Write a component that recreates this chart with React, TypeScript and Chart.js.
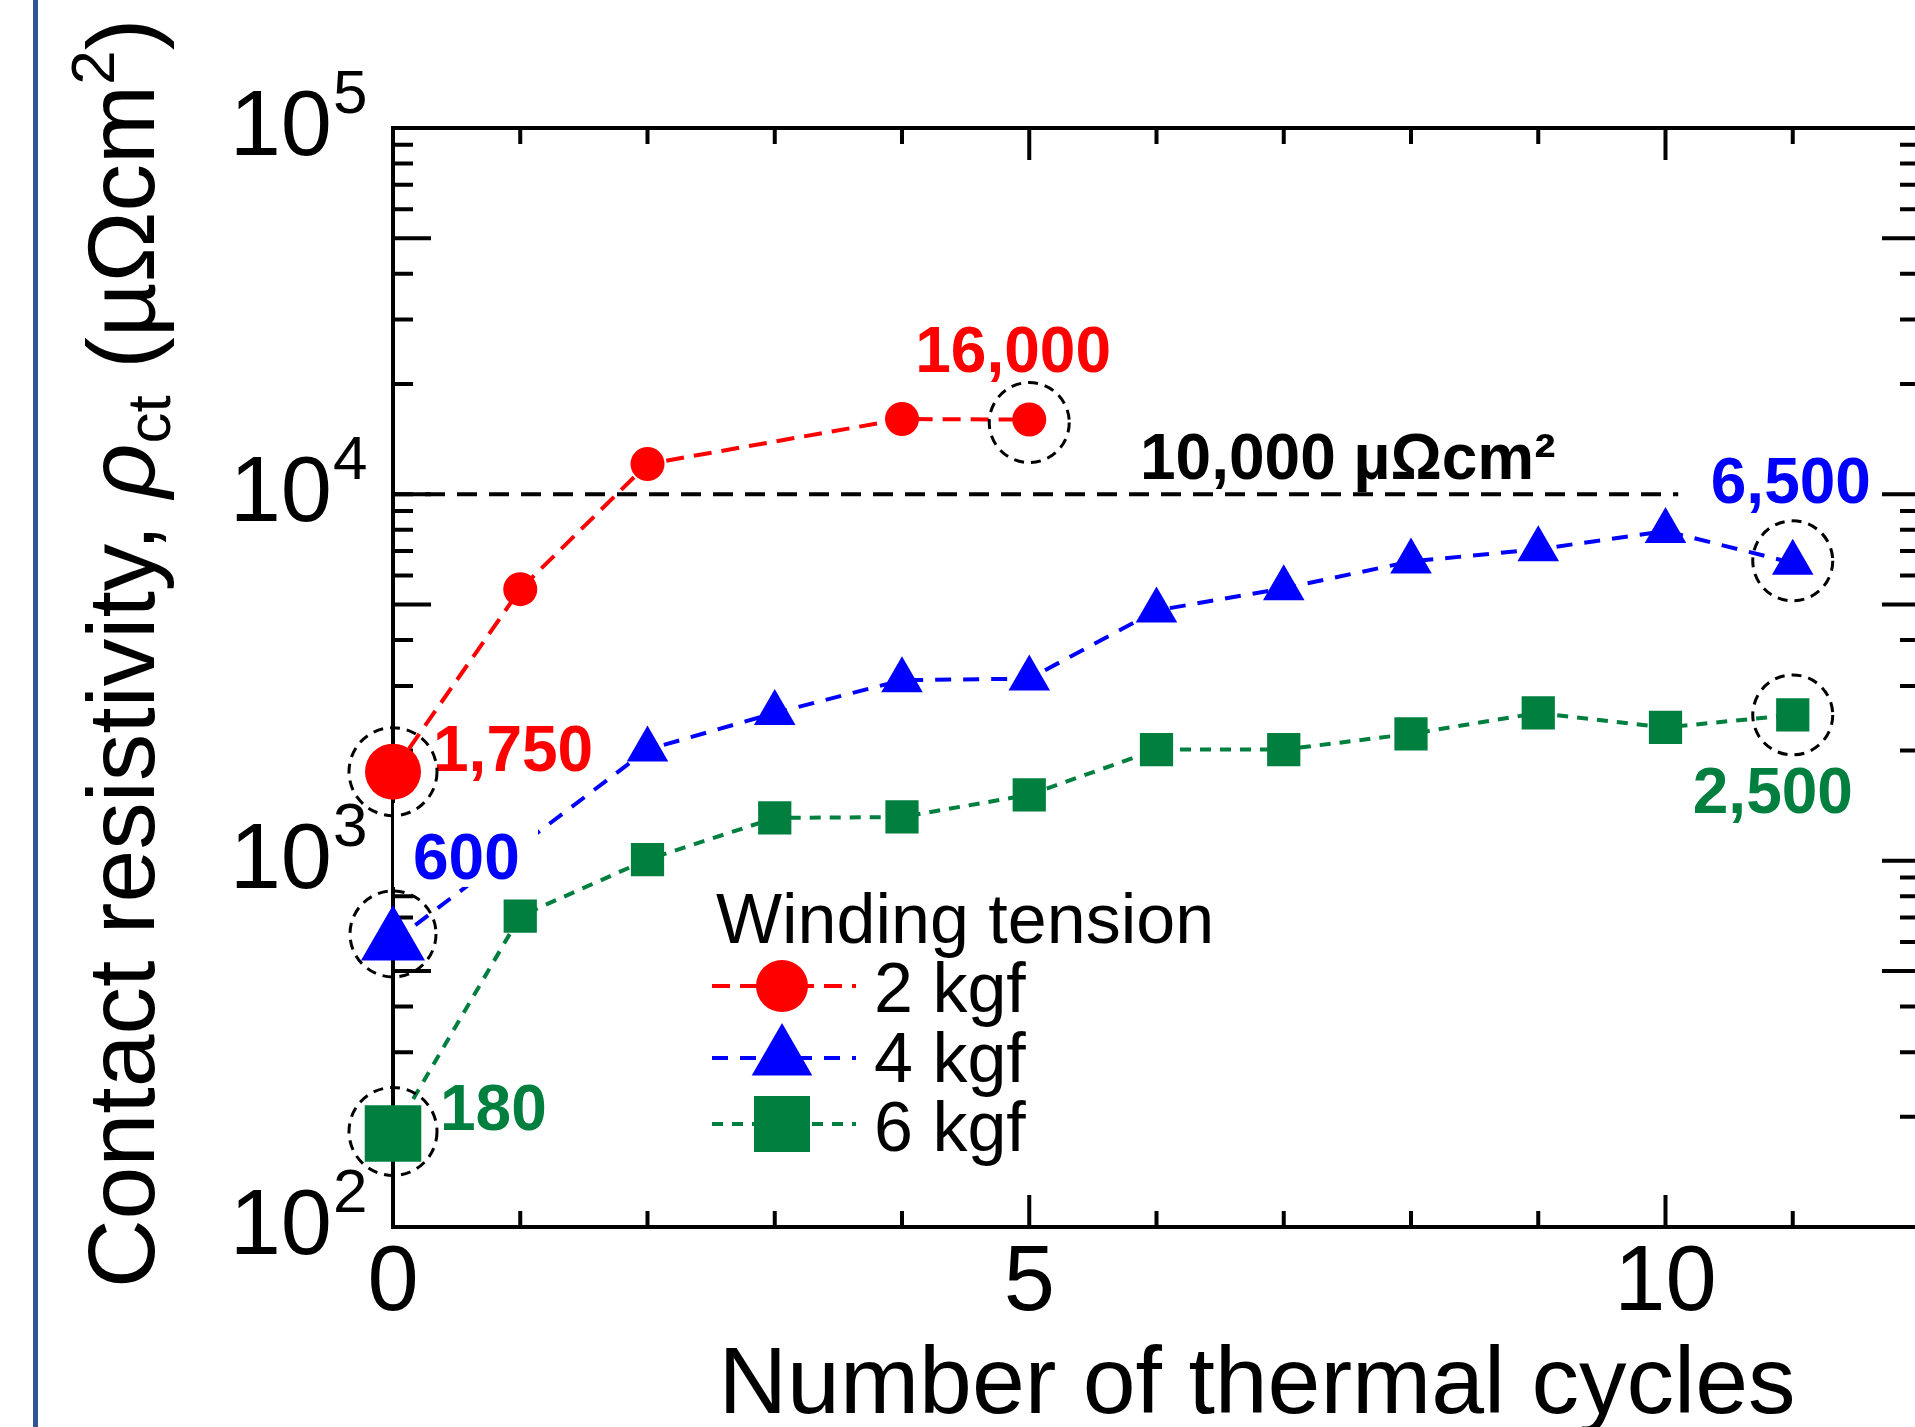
import React, { useEffect, useRef } from "react";
import { Chart, registerables } from "chart.js";

Chart.register(...registerables);

const W = 1960;
const H = 1427;
const FONT = '"Liberation Sans", Arial, Helvetica, sans-serif';

const RED = "#FF0000";
const BLUE = "#0000FF";
const GREEN = "#007F3F";

// ---- data ----
const redCycles = [0, 1, 2, 4, 5];
const redValues = [1750, 5510, 12100, 16050, 16000];
const blueCycles = [0, 2, 3, 4, 5, 6, 7, 8, 9, 10, 11];
const blueValues = [600, 2010, 2530, 3110, 3140, 4820, 5540, 6560, 7080, 7940, 6500];
const greenCycles = [0, 1, 2, 3, 4, 5, 6, 7, 8, 9, 10, 11];
const greenValues = [180, 706, 1007, 1308, 1316, 1513, 2010, 2010, 2220, 2530, 2310, 2500];
const seriesNames = ["2 kgf", "4 kgf", "6 kgf"];
const legendTitle = "Winding tension";
const limitValue = 10000;
const limitCycles = [0, 10.1];
const limitLabel = "10,000 µΩcm²";
const xTickLabels = ["0", "5", "10"];
const xTickValues = [0, 5, 10];
const yDecades = [2, 3, 4, 5];
const xTitle = "Number of thermal cycles";
const highlightLabels = ["1,750", "16,000", "600", "180", "6,500", "2,500"];

export default function App() {
  const ref = useRef<HTMLCanvasElement>(null);

  useEffect(() => {
    const canvas = ref.current!;

    const framePlugin = {
      id: "frame",
      beforeDatasetsDraw(chart: any) {
        const ctx = chart.ctx as CanvasRenderingContext2D;
        const { left, right, top, bottom } = chart.chartArea;
        const xs = chart.scales.x;
        const ys = chart.scales.y;
        ctx.save();
        // page border line at left
        ctx.fillStyle = "#2F5597";
        ctx.fillRect(33, 0, 5, H);

        ctx.strokeStyle = "#000";
        ctx.lineWidth = 4;
        ctx.lineCap = "butt";
        ctx.strokeRect(left, top, right - left, bottom - top);

        ctx.beginPath();
        for (let d = 2; d < 5; d++) {
          for (let k = 1; k <= 9; k++) {
            const py = ys.getPixelForValue(k * Math.pow(10, d));
            const len = k === 1 || k === 5 ? 38 : 20;
            ctx.moveTo(left, py);
            ctx.lineTo(left + len, py);
            ctx.moveTo(right, py);
            ctx.lineTo(right - len, py);
          }
        }
        for (let i = 0; i <= 12; i++) {
          const px = xs.getPixelForValue(i);
          const len = i % 5 === 0 ? 32 : 16;
          ctx.moveTo(px, bottom);
          ctx.lineTo(px, bottom - len);
          ctx.moveTo(px, top);
          ctx.lineTo(px, top + len);
        }
        ctx.stroke();

        // tick labels
        ctx.fillStyle = "#000";
        ctx.textBaseline = "alphabetic";
        for (const d of yDecades) {
          const py = ys.getPixelForValue(Math.pow(10, d));
          ctx.font = `92px ${FONT}`;
          ctx.textAlign = "right";
          ctx.fillText("10", left - 61, py + 27);
          ctx.font = `62px ${FONT}`;
          ctx.textAlign = "left";
          ctx.fillText(String(d), left - 60, py - 15);
        }
        ctx.font = `92px ${FONT}`;
        ctx.textAlign = "center";
        xTickValues.forEach((v, i) => {
          ctx.fillText(xTickLabels[i], xs.getPixelForValue(v), bottom + 83);
        });

        // x title
        ctx.font = `95px ${FONT}`;
        ctx.textAlign = "center";
        ctx.fillText(xTitle, 1257, 1413);

        // y title (rotated)
        ctx.save();
        ctx.translate(154, 1288);
        ctx.rotate(-Math.PI / 2);
        ctx.textAlign = "left";
        let x = 0;
        const seg = (t: string, font: string, dy: number) => {
          ctx.font = font;
          ctx.fillText(t, x, dy);
          x += ctx.measureText(t).width;
        };
        seg("Contact resistivity, ", `95px ${FONT}`, 0);
        seg("ρ", `italic 95px ${FONT}`, 0);
        seg("ct", `62px ${FONT}`, 16);
        seg(" (µΩcm", `95px ${FONT}`, 0);
        seg("2", `62px ${FONT}`, -40);
        seg(")", `95px ${FONT}`, 0);
        ctx.restore();

        ctx.restore();
      },
    };

    const overlayPlugin = {
      id: "overlay",
      afterDatasetsDraw(chart: any) {
        const ctx = chart.ctx as CanvasRenderingContext2D;
        const xs = chart.scales.x;
        const ys = chart.scales.y;
        const P = (x: number, y: number) => [xs.getPixelForValue(x), ys.getPixelForValue(y)];
        ctx.save();

        // white box behind "600"
        const [bx, by] = P(blueCycles[0], blueValues[0]);
        ctx.fillStyle = "#fff";
        ctx.fillRect(bx + 1, by - 139, 144, 84);

        // value labels
        const labels: [string, number, number, string, number, number][] = [
          [highlightLabels[0], redCycles[0], redValues[0], RED, 40, -1],
          [highlightLabels[1], redCycles[4], redValues[4], RED, -114, -48],
          [highlightLabels[2], blueCycles[0], blueValues[0], BLUE, 20, -63],
          [highlightLabels[3], greenCycles[0], greenValues[0], GREEN, 47, -3],
          [highlightLabels[4], blueCycles[10], blueValues[10], BLUE, -82, -60],
          [highlightLabels[5], greenCycles[11], greenValues[11], GREEN, -100, 98],
        ];
        ctx.font = `bold 64px ${FONT}`;
        ctx.textAlign = "left";
        ctx.textBaseline = "alphabetic";
        for (const [t, xv, yv, c, dx, dy] of labels) {
          const [px, py] = P(xv, yv);
          ctx.fillStyle = c;
          ctx.fillText(t, px + dx, py + dy);
        }

        // limit label
        const [, ly] = P(0, limitValue);
        ctx.fillStyle = "#000";
        ctx.fillText(limitLabel, 1140, ly - 15);

        // dashed circles
        const circles: [number, number, number, number][] = [
          [redCycles[0], redValues[0], 44, 0],
          [blueCycles[0], blueValues[0], 43, -8],
          [greenCycles[0], greenValues[0], 44, -2],
          [redCycles[4], redValues[4], 40, 3],
          [blueCycles[10], blueValues[10], 40, -2],
          [greenCycles[11], greenValues[11], 40, 0],
        ];
        ctx.strokeStyle = "#000";
        ctx.lineWidth = 3;
        ctx.setLineDash([10, 7]);
        for (const [xv, yv, r, dy] of circles) {
          const [px, py] = P(xv, yv);
          ctx.beginPath();
          ctx.arc(px, py + dy, r, 0, Math.PI * 2);
          ctx.stroke();
        }
        ctx.setLineDash([]);

        // legend
        ctx.fillStyle = "#000";
        ctx.font = `70px ${FONT}`;
        ctx.fillText(legendTitle, 716, 943);
        const rows = [
          { name: seriesNames[0], color: RED, dash: [18, 10], y: 986, base: 1012, shape: "circle" },
          { name: seriesNames[1], color: BLUE, dash: [16, 12], y: 1058, base: 1082, shape: "triangle" },
          { name: seriesNames[2], color: GREEN, dash: [11, 9], y: 1124, base: 1151, shape: "square" },
        ];
        for (const r of rows) {
          ctx.strokeStyle = r.color;
          ctx.lineWidth = 4;
          ctx.setLineDash(r.dash);
          ctx.beginPath();
          ctx.moveTo(712, r.y);
          ctx.lineTo(856, r.y);
          ctx.stroke();
          ctx.setLineDash([]);
          ctx.fillStyle = r.color;
          const cx = 782;
          ctx.beginPath();
          if (r.shape === "circle") {
            ctx.arc(cx, r.y, 26, 0, Math.PI * 2);
          } else if (r.shape === "triangle") {
            const rad = 35;
            ctx.moveTo(cx, r.y - rad);
            ctx.lineTo(cx + rad * Math.sin((2 * Math.PI) / 3), r.y + rad / 2);
            ctx.lineTo(cx - rad * Math.sin((2 * Math.PI) / 3), r.y + rad / 2);
            ctx.closePath();
          } else {
            ctx.rect(cx - 28, r.y - 28, 56, 56);
          }
          ctx.fill();
          ctx.fillStyle = "#000";
          ctx.font = `70px ${FONT}`;
          ctx.fillText(r.name, 874, r.base);
        }

        ctx.restore();
      },
    };

    const chart = new Chart(canvas, {
      type: "scatter",
      data: {
        datasets: [
          {
            label: seriesNames[0],
            data: redCycles.map((x, i) => ({ x, y: redValues[i] })),
            showLine: true,
            borderColor: RED,
            borderWidth: 4,
            borderDash: [18, 10],
            pointStyle: "circle",
            pointRadius: redCycles.map((_, i) => (i === 0 ? 28 : 17)),
            pointBackgroundColor: RED,
            pointBorderWidth: 0,
            clip: false,
          },
          {
            label: seriesNames[1],
            data: blueCycles.map((x, i) => ({ x, y: blueValues[i] })),
            showLine: true,
            borderColor: BLUE,
            borderWidth: 4,
            borderDash: [16, 12],
            pointStyle: "triangle",
            pointRadius: blueCycles.map((_, i) => (i === 0 ? 37 : 24)),
            pointBackgroundColor: BLUE,
            pointBorderWidth: 0,
            clip: false,
          },
          {
            label: seriesNames[2],
            data: greenCycles.map((x, i) => ({ x, y: greenValues[i] })),
            showLine: true,
            borderColor: GREEN,
            borderWidth: 4,
            borderDash: [11, 9],
            pointStyle: "rect",
            pointRadius: greenCycles.map((_, i) => (i === 0 ? 40 : 23.5)),
            pointBackgroundColor: GREEN,
            pointBorderWidth: 0,
            clip: false,
          },
          {
            label: "limit",
            data: limitCycles.map((x) => ({ x, y: limitValue })),
            showLine: true,
            borderColor: "#000",
            borderWidth: 4,
            borderDash: [20, 12],
            pointRadius: 0,
            clip: false,
          },
        ],
      },
      options: {
        responsive: false,
        animation: false,
        events: [],
        layout: { padding: { left: 393, top: 128, right: W - 1934, bottom: H - 1227 } },
        scales: {
          x: { type: "linear", min: 0, max: 12, display: false },
          y: { type: "logarithmic", min: 100, max: 100000, display: false },
        },
        plugins: { legend: { display: false }, tooltip: { enabled: false } },
      },
      plugins: [framePlugin, overlayPlugin],
    } as any);

    return () => chart.destroy();
  }, []);

  return (
    <div
      style={{
        position: "fixed",
        left: 0,
        top: 0,
        width: 1915,
        height: 1427,
        overflow: "hidden",
        background: "#fff",
      }}
    >
      <canvas ref={ref} width={W} height={H} style={{ display: "block", width: W, height: H }} />
    </div>
  );
}
